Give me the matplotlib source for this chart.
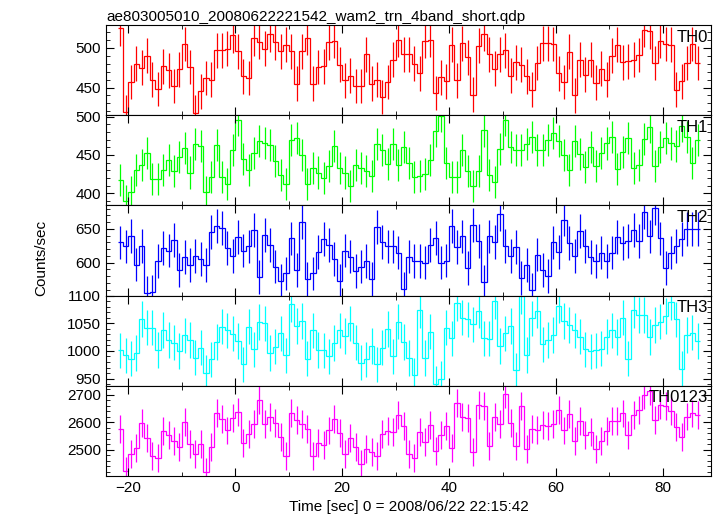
import matplotlib.pyplot as plt
import numpy as np

plt.rcParams['font.family'] = ['Liberation Sans', 'DejaVu Sans']

# 1 s bins, first bin starts at t = -22 s
t_start = -22
bin_width = 1.0

th0 = [525, 419, 457, 480, 475, 490, 460, 448, 477, 472, 452, 473, 505, 476, 418, 445,
       462, 460, 497, 497, 499, 516, 496, 464, 462, 512, 508, 499, 517, 507, 496, 504,
       496, 455, 496, 513, 455, 476, 477, 507, 509, 479, 459, 465, 452, 452, 492, 455,
       460, 438, 457, 485, 510,
       492, 492, 480, 468, 509, 510, 443, 463, 458, 504, 459, 506, 488, 441, 503, 518,
       492, 474, 492, 497, 465, 482, 479, 464, 447, 481, 506, 506, 505, 468, 457, 495,
       440, 485, 466, 485, 456, 474, 460, 490, 504, 482, 483, 485, 491, 523, 521, 481,
       509, 505, 504, 447, 458, 481, 505, 481]
th1 = [417, 390, 401, 430, 437, 452, 418, 419, 430, 443, 429, 447, 459, 427, 464, 462,
       401, 421, 463, 421, 412, 456, 496, 445, 430, 452, 468, 466, 463, 442, 424, 412,
       469, 472, 450, 412, 433, 427, 420, 436, 462, 433, 427, 409, 437, 433, 429, 423,
       464, 456, 438, 464, 437,
       460, 440, 421, 423, 425, 443, 481, 501, 439, 421, 421, 456, 429, 409, 429, 482,
       424, 415, 458, 496, 460, 457, 456, 464, 474, 457, 457, 470, 479, 468, 450, 430,
       468, 451, 434, 460, 435, 452, 465, 473, 432, 454, 472, 433, 437, 471, 487, 435,
       460, 472, 465, 462, 488, 474, 440, 470]
th2 = [630, 624, 640, 597, 625, 555, 557, 602, 622, 618, 634, 589, 608, 596, 610, 605,
       596, 645, 654, 651, 622, 610, 638, 618, 624, 648, 579, 641, 626, 594, 573, 584,
       636, 589, 660, 576, 584, 616, 635, 626, 605, 573, 618, 609, 588, 594, 602, 576,
       653, 631, 624, 624, 615,
       561, 609, 602, 602, 600, 626, 637, 600, 603, 654, 623, 639, 592, 656, 632, 571,
       639, 631, 672, 625, 610, 623, 577, 596, 560, 612, 589, 580, 630, 616, 664, 629,
       610, 647, 625, 608, 602, 615, 602, 615, 638, 629, 632, 648, 632, 675, 639, 681,
       636, 592, 615, 625, 635, 650, 650, 650]
th3 = [1001, 992, 986, 996, 1058, 1042, 1042, 1002, 1038, 1020, 1015, 1000, 1028, 1020,
       988, 1006, 961, 985, 1016, 1044, 1037, 1031, 1018, 976, 1044, 1003, 1052, 1050,
       996, 1008, 1032, 992, 1084, 1045, 1054, 986, 1037, 1002, 1001, 990, 1014, 1037,
       1027, 1050, 1015, 979, 985, 1009, 976, 1006, 1040, 990, 1053,
       1016, 987, 956, 1074, 987, 1035, 941, 950, 1042, 1023, 1086, 1060, 1057, 1048,
       1073, 1023, 1022, 1090, 1009, 1032, 1045, 965, 1099, 993, 1059, 1073, 1012, 1020,
       1029, 1082, 1054, 1047, 1037, 1026, 1003, 999, 1001, 1004, 1026, 1037, 1025, 1060,
       986, 1074, 1065, 1065, 1025, 1047, 1053, 1063, 1088, 1057, 967, 1029, 1033, 1018]
th0123 = [2574, 2424, 2483, 2506, 2597, 2541, 2476, 2469, 2568, 2555, 2532, 2509, 2601,
          2519, 2483, 2519, 2420, 2510, 2633, 2612, 2570, 2615, 2639, 2524, 2556, 2593,
          2680, 2594, 2619, 2597, 2548, 2478, 2634, 2610, 2592, 2574, 2478, 2526, 2517,
          2570, 2612, 2560, 2486, 2543, 2511, 2449, 2501, 2492, 2476, 2558, 2567, 2565,
          2626,
          2585, 2484, 2469, 2564, 2529, 2591, 2494, 2555, 2587, 2507, 2669, 2620, 2614,
          2492, 2662, 2658, 2513, 2618, 2593, 2702, 2599, 2515, 2658, 2501, 2575, 2572,
          2589, 2587, 2595, 2644, 2570, 2630, 2533, 2604, 2553, 2565, 2501, 2533, 2568,
          2604, 2604, 2632, 2553, 2627, 2646, 2698, 2713, 2607, 2664, 2659, 2641, 2584,
          2545, 2621, 2632, 2625]

# rough 1-sigma error per band
errs = [22, 21, 25, 32, 51]
names = ['TH0', 'TH1', 'TH2', 'TH3', 'TH0123']
colors = ['#ff0000', '#00ff00', '#0000ff', '#00ffff', '#ff00ff']
ylims = [(415, 529), (384, 502), (551, 685), (937, 1100), (2404, 2733)]
majors = [50, 50, 50, 50, 100]
minors = [10, 10, 10, 10, 20]

fig = plt.figure(figsize=(7.17, 5.16), dpi=100)
left, right = 106 / 717, 711 / 717
top, bottom = 1 - 25 / 516, 1 - 476 / 516
h = (top - bottom) / 5

for i, (vals, name, c) in enumerate(zip([th0, th1, th2, th3, th0123], names, colors)):
    vals = np.array(vals)
    edges = t_start + bin_width * np.arange(len(vals) + 1)
    centers = edges[:-1] + bin_width / 2
    ax = fig.add_axes([left, top - (i + 1) * h, right - left, h])
    ax.stairs(vals, edges, color=c, lw=0.9, baseline=None)
    ax.errorbar(centers, vals, yerr=errs[i], fmt='none', ecolor=c, elinewidth=0.9)
    ax.set_xlim(-24.2, 89)
    ax.set_ylim(*ylims[i])
    ax.xaxis.set_major_locator(plt.MultipleLocator(20))
    ax.xaxis.set_minor_locator(plt.MultipleLocator(10))
    ax.yaxis.set_major_locator(plt.MultipleLocator(majors[i]))
    ax.yaxis.set_minor_locator(plt.MultipleLocator(minors[i]))
    ax.tick_params(which='both', direction='in', top=True, right=True, labelsize=11)
    ax.tick_params(which='major', length=6)
    ax.tick_params(which='minor', length=3)
    ax.text(0.995, 0.95, name, transform=ax.transAxes, ha='right', va='top', fontsize=12)
    if i < 4:
        ax.set_xticklabels([])
    else:
        ax.set_xlabel('Time [sec] 0 = 2008/06/22 22:15:42', fontsize=11, labelpad=4)
    if i == 0:
        ax.set_title('ae803005010_20080622221542_wam2_trn_4band_short.qdp',
                     loc='left', fontsize=11, pad=3)

fig.text(0.057, 0.5, 'Counts/sec', rotation=90, ha='center', va='center', fontsize=11)

plt.savefig('out.png', dpi=100)
